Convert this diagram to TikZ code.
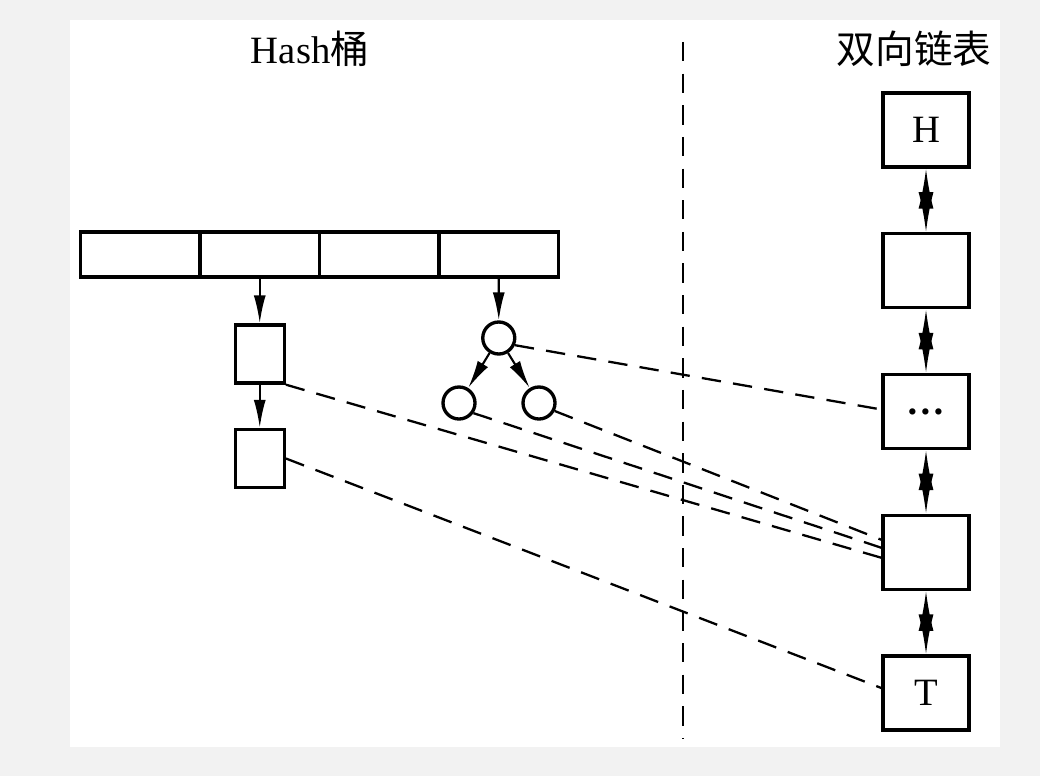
\documentclass[tikz,border=0pt]{standalone}
\usepackage{fontspec}
\setmainfont{Liberation Serif}
\newfontfamily\cjk{Noto Sans CJK SC}
\usetikzlibrary{arrows.meta}
\definecolor{outsidecolor}{HTML}{F2F2F2}
\def \cellw {1.195}
\def \listgap {1.4075}
\tikzset{
  txt/.style={font=\fontsize{11}{13}\selectfont, inner sep=0pt},
  cell/.style={draw, line width=0.95pt, minimum width=\cellw cm, minimum height=0.45cm, inner sep=0pt},
  bucketbox/.style={draw, line width=0.95pt, minimum width=0.49cm, minimum height=0.58cm, inner sep=0pt},
  treenode/.style={draw, circle, line width=0.95pt, minimum size=0.32cm, inner sep=0pt},
  listbox/.style={draw, line width=0.95pt, minimum width=0.86cm, minimum height=0.74cm, inner sep=0pt, font=\fontsize{11}{13}\selectfont},
  arr/.style={-{Latex[length=0.28cm,width=0.12cm]}, line width=0.6pt},
  longarr/.style={-{Latex[length=0.4cm,width=0.15cm]}, line width=0.6pt},
  link/.style={dashed, dash pattern=on 5.5pt off 3.5pt, line width=0.65pt}
}
\begin{document}
\begin{tikzpicture}
% Draw the page and the white sheet
\fill[outsidecolor] (0,0) rectangle (10.40,7.76);
\fill[white] (0.70,0.29) rectangle (10.00,7.56);
% Draw the titles
\node[txt] (hashtitle) at (3.10,7.27) {Hash{\cjk 桶}};
\node[txt] (listtitle) at (9.14,7.27) {\cjk 双向链表};
% Draw the line separating the two halves
\coordinate (septop) at (6.83,7.34);
\coordinate (sepbot) at (6.83,0.37);
\draw[link] (septop) -- (sepbot);
% Draw the bucket array
\foreach \i in {1,...,4}
  \node[cell] (b\i) at ({0.805+\cellw*(\i-0.5)},5.215) {};
% Draw the chain under the second bucket
\node[bucketbox] (l1) at (2.5975,4.22) {};
\node[bucketbox] (l2) at (2.5975,3.175) {};
\draw[arr] (b2.south) -- (l1.north);
\draw[arr] (l1.south) -- (l2.north);
% Draw the tree under the fourth bucket
\node[treenode] (c1) at (4.9875,4.38) {};
\node[treenode] (c2) at (4.59,3.73) {};
\node[treenode] (c3) at (5.39,3.73) {};
\draw[arr] (b4.south) -- (c1.north);
\draw[arr] (c1) -- (c2);
\draw[arr] (c1) -- (c3);
% Draw the doubly linked list
\foreach \n/\t [count=\i] in {r1/H, r2/{}, r3/{\bfseries\dots}, r4/{}, r5/T}
  \node[listbox] (\n) at (9.26,{6.46-\listgap*(\i-1)}) {\t};
% Draw the two long heads between neighbours
\foreach \a/\b in {r1/r2, r2/r3, r3/r4, r4/r5}
{
  \draw[longarr] ([yshift=-0.45cm]\a.south) -- (\a.south);
  \draw[longarr] ([yshift=0.45cm]\b.north) -- (\b.north);
}
% Draw the links from the buckets to the list
\draw[link] (c1.-24) -- ([yshift=0.02cm]r3.west);
\draw[link] (c3.-27) -- ([yshift=0.125cm]r4.west);
\draw[link] (c2.-35) -- ([yshift=0.045cm]r4.west);
\draw[link] (l1.south east) -- ([yshift=-0.055cm]r4.west);
\draw[link] (l2.east) -- ([yshift=0.05cm]r5.west);
\end{tikzpicture}
\end{document}
